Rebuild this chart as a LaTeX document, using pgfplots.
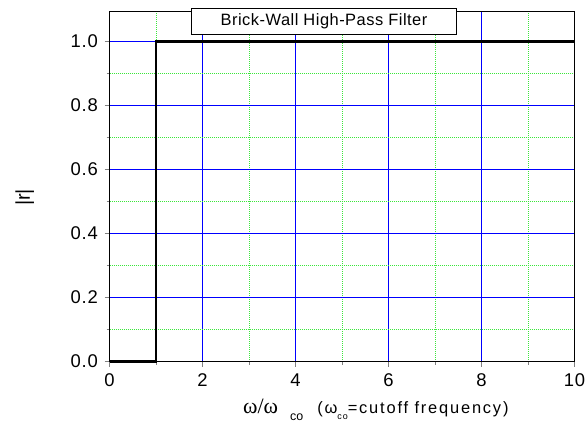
\documentclass[border=0pt]{standalone}
\usepackage{pgfplots}
\pgfplotsset{compat=1.18}
\usepackage{fontspec}
\setmainfont{Liberation Sans}
\newfontfamily\seriff{Liberation Serif}
\newfontfamily\spaced[LetterSpace=5]{Liberation Sans}
\newfontfamily\tspaced[LetterSpace=3]{Liberation Sans}
\newfontfamily\lspaced[LetterSpace=11]{Liberation Sans}
\definecolor{gridblue}{RGB}{0,0,255}
\definecolor{gridgreen}{RGB}{60,230,60}
\begin{document}
\begin{tikzpicture}
\path[use as bounding box] (0,0) rectangle (586bp,422bp);
\begin{axis}[
  at={(109.5bp,60.5bp)}, anchor=south west,
  width=465bp, height=350bp, scale only axis,
  xmin=0, xmax=10, ymin=0, ymax=1.09375,
  xtick={0,2,4,6,8,10}, ytick={0,0.2,0.4,0.6,0.8,1.0},
  minor x tick num=1, minor y tick num=1,
  xtick pos=bottom, ytick pos=left,
  tick align=outside,
  major tick length=5bp, minor tick length=3bp,
  tick style={line width=1bp},
  grid=both,
  major grid style={draw=gridblue, line width=1bp},
  minor grid style={draw=gridgreen, dash pattern=on 1bp off 1bp, line width=1bp},
  axis line style={line width=1bp},
  ticklabel style={font=\spaced\fontsize{18.5}{18.5}\selectfont},
  yticklabel style={xshift=-3bp, /pgf/number format/fixed, /pgf/number format/fixed zerofill, /pgf/number format/precision=1},
  /pgf/number format/assume math mode=true,
  xticklabel style={yshift=-4bp},
  ylabel={|r|},
  ylabel style={font=\fontsize{20}{20}\selectfont, at={(axis description cs:-0.182,0.469)}, anchor=center},
  xlabel={{\seriff\fontsize{22}{22}\selectfont ω/ω}\hspace{12bp}\raisebox{-7bp}{\fontsize{12.5}{12.5}\selectfont co}\hspace{14bp}{\lspaced\fontsize{16.5}{16.5}\selectfont (ω\raisebox{-6.5bp}{\fontsize{9}{9}\selectfont co}=cutoff frequency)}},
  xlabel style={at={(axis description cs:0.287,0)}, anchor=base west, yshift=-51.5bp, inner sep=0pt},
  clip=false,
]
\addplot[black, line width=2.8bp, line join=miter] coordinates {(0,0) (1,0) (1,1) (10,1)};
\node[draw=black, fill=white, line width=1bp, minimum width=265bp, minimum height=26bp, inner sep=0pt, font=\tspaced\fontsize{16.5}{16.5}\selectfont, anchor=center]
  at (axis cs:4.613,1.0625) {Brick-Wall High-Pass Filter};
\end{axis}
\end{tikzpicture}
\end{document}
